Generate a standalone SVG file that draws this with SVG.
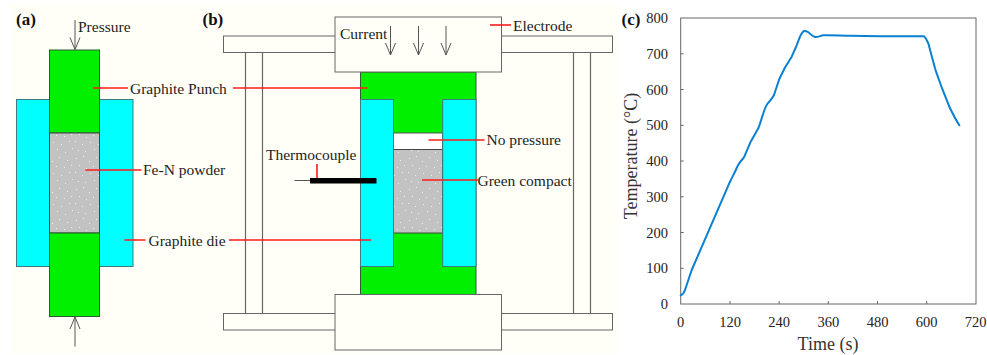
<svg xmlns="http://www.w3.org/2000/svg" width="987" height="355" viewBox="0 0 987 355">
<defs>
<pattern id="speck" width="37" height="31" patternUnits="userSpaceOnUse">
<rect width="37" height="31" fill="#c2c2c2"/>
<g fill="#efefef"><rect x="2" y="3" width="1" height="1"/><rect x="9" y="1" width="1" height="1"/><rect x="15" y="6" width="1" height="1"/><rect x="22" y="2" width="1" height="1"/><rect x="30" y="5" width="1" height="1"/><rect x="5" y="10" width="1" height="1"/><rect x="12" y="13" width="1" height="1"/><rect x="19" y="11" width="1" height="1"/><rect x="27" y="12" width="1" height="1"/><rect x="34" y="10" width="1" height="1"/><rect x="1" y="17" width="1" height="1"/><rect x="8" y="20" width="1" height="1"/><rect x="16" y="18" width="1" height="1"/><rect x="24" y="20" width="1" height="1"/><rect x="32" y="17" width="1" height="1"/><rect x="4" y="26" width="1" height="1"/><rect x="11" y="27" width="1" height="1"/><rect x="20" y="25" width="1" height="1"/><rect x="28" y="28" width="1" height="1"/><rect x="35" y="24" width="1" height="1"/></g>
</pattern>
<marker id="arrow" markerWidth="14" markerHeight="12" refX="13" refY="5.5" orient="auto" markerUnits="userSpaceOnUse" viewBox="0 0 14 11"><path d="M1 0.5L13 5.5L1 10.5" fill="none" stroke="#555" stroke-width="1"/></marker>
</defs>
<style>
text{font-family:"Liberation Serif","Times New Roman",serif;fill:#222}
.lbl{font-size:15.5px}
.head{font-size:17px;font-weight:700;fill:#111}
.tick{font-size:14.5px;fill:#333}
.axis{font-size:18px;fill:#333}
.box{fill:#fffff8;stroke:#666;stroke-width:1}
.grn{fill:#00f000;stroke:#2e5a34;stroke-width:1}
.cyn{fill:#00ffff;stroke:#3a7a80;stroke-width:1}
.pow{fill:url(#speck);stroke:#444;stroke-width:1}
.col{stroke:#666;stroke-width:1.2;fill:none}
.red{stroke:#ff1a1a;stroke-width:1.6;fill:none}
.arr{stroke:#555;stroke-width:1;fill:none;marker-end:url(#arrow)}
.frame{stroke:#666;stroke-width:1;fill:none}
</style>
<rect width="987" height="355" fill="#fff"/>
<rect x="10" y="4" width="608" height="350" fill="#fffff8"/>

<g id="panel-a">
<g id="a-die"><rect class="cyn" x="16.5" y="99.5" width="116.5" height="167"/></g>
<g id="a-punch-top"><rect class="grn" x="49.5" y="50" width="50" height="83"/></g>
<g id="a-powder"><rect class="pow" x="49.5" y="133" width="50" height="100"/></g>
<g id="a-punch-bottom"><rect class="grn" x="49.5" y="233" width="50" height="83.500"/></g>
<text class="head" x="16" y="25">(a)</text>
<text class="lbl" x="78" y="32">Pressure</text>
<text class="lbl" x="130" y="94">Graphite Punch</text>
<text class="lbl" x="143" y="175">Fe-N powder</text>
<text class="lbl" x="148.500" y="246">Graphite die</text>
</g>

<g id="panel-b">
<g id="b-top-bar"><rect class="box" x="223.500" y="36" width="389" height="16.500"/></g>
<g id="b-bottom-bar"><rect class="box" x="223.500" y="313.500" width="389" height="16.500"/></g>
<g id="b-columns"><path class="col" d="M245.500 52.500V313.500M262.500 52.500V313.500M573.500 52.500V313.500M590.500 52.500V313.500"/></g>
<g id="b-green"><rect class="grn" x="360.500" y="72" width="115.500" height="222.500"/></g>
<g id="b-gap"><rect x="393.500" y="133" width="49" height="16.500" fill="#fff" stroke="#555"/></g>
<g id="b-powder"><rect class="pow" x="393.500" y="149.500" width="49" height="83.500"/></g>
<g id="b-die-left"><rect class="cyn" x="360.500" y="99.500" width="33" height="167"/></g>
<g id="b-die-right"><rect class="cyn" x="442.700" y="99.500" width="33.300" height="167"/></g>
<g id="b-electrode-top"><rect class="box" x="335" y="17" width="166.500" height="55"/></g>
<g id="b-electrode-bottom"><rect class="box" x="335" y="294.500" width="166.500" height="55.500"/></g>
<g id="b-thermocouple"><path d="M294.500 180.500H310" stroke="#555" stroke-width="1"/><rect x="310" y="178" width="66.500" height="5.500" fill="#000"/></g>
<text class="head" x="202.500" y="25">(b)</text>
<text class="lbl" x="340" y="38.500">Current</text>
<text class="lbl" x="513" y="30.500">Electrode</text>
<text class="lbl" x="486.500" y="145">No pressure</text>
<text class="lbl" x="477.500" y="186">Green compact</text>
<text class="lbl" x="266" y="160">Thermocouple</text>
</g>

<g id="panel-c">
<rect class="frame" x="680.700" y="18" width="295.300" height="286"/>
<path class="frame" d="M680.700 268.300h3M680.700 232.500h3M680.700 196.800h3M680.700 161h3M680.700 125.300h3M680.700 89.500h3M680.700 53.800h3M730 304v-3M779.100 304v-3M828.300 304v-3M877.500 304v-3M926.700 304v-3"/>
<g class="tick" text-anchor="end">
<text x="668" y="309">0</text><text x="668" y="273.300">100</text><text x="668" y="237.500">200</text><text x="668" y="201.800">300</text><text x="668" y="166">400</text><text x="668" y="130.300">500</text><text x="668" y="94.500">600</text><text x="668" y="58.800">700</text><text x="668" y="23">800</text>
</g>
<g class="tick" text-anchor="middle">
<text x="680.700" y="326.500">0</text><text x="730" y="326.500">120</text><text x="779.100" y="326.500">240</text><text x="828.300" y="326.500">360</text><text x="877.500" y="326.500">480</text><text x="926.700" y="326.500">600</text><text x="975.500" y="326.500">720</text>
</g>
<text class="axis" x="828" y="350" text-anchor="middle">Time (s)</text>
<text class="axis" transform="translate(636.500 156) rotate(-90)" text-anchor="middle">Temperature (°C)</text>
<text class="head" x="621.500" y="25">(c)</text>
<path id="curve" fill="none" stroke="#0a80d0" stroke-width="2" stroke-linejoin="round" stroke-linecap="round" d="M680.700 295.300C682.500 294.500 684 293 685 290L691.700 270L730 181.700C733 175.500 735 172 736.700 168C737.500 166 738.300 165 739.300 163.300C741 160.500 742.500 159.500 744 157.300L750.700 141.700L758.300 128.300C760.500 123.500 761.500 118 763.300 113.300C764.500 109.500 765.500 106.500 767.300 104C769.500 101.500 772 99 774 95L779.300 79L785 67.500L791.700 56.700L796 47L800 36.700C801.500 33.500 802.500 31.500 804 31C805.500 30.700 806.500 31.200 807.300 31.700C810 33 812 36.500 815 37C818 37.200 820.500 35.700 823.300 35.300C830 35 840 35.600 850 35.800L880 36.200L924 36.300C925.500 37.500 927 40 928.300 43.300L935 68.300C937 75 939.500 81 941.700 87.300L950 108.300C953 114.500 956 120 959.300 125.300"/>
</g>

<g id="connectors">
<path class="arr" d="M75 20V49.500"/>
<path class="arr" d="M75 346.500V317"/>
<path class="arr" d="M390.500 26V55"/>
<path class="arr" d="M418.500 26V55"/>
<path class="arr" d="M446 26V55"/>
<path class="red" d="M93 88H128M233 88H367.500"/>
<path class="red" d="M85.500 170H141.500"/>
<path class="red" d="M124.500 240H145.500M229 240H371"/>
<path class="red" d="M490 25H511"/>
<path class="red" d="M428.500 140H484.500"/>
<path class="red" d="M422 180H478"/>
<path class="red" d="M317 164V178"/>
</g>
</svg>
